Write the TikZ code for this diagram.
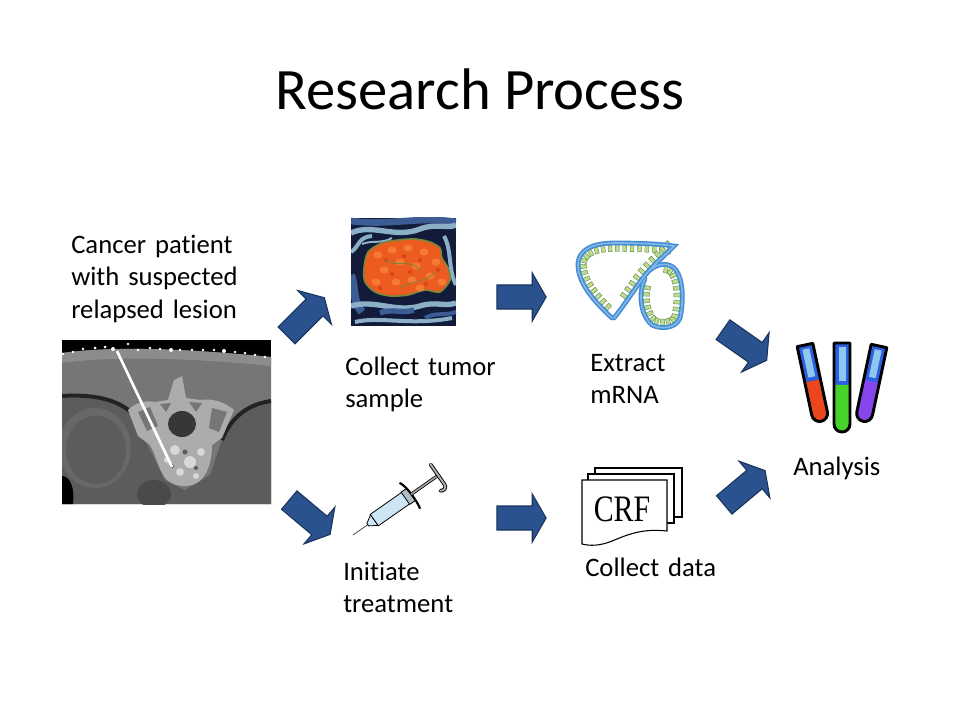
\documentclass[tikz,border=0pt]{standalone}
\usepackage{fontspec}
\setmainfont{Carlito}[RawFeature={-liga}]
\newfontfamily\crffont{Liberation Serif}
\usetikzlibrary{shapes.arrows,decorations.markings}

\definecolor{arrowblue}{RGB}{42,82,142}
\definecolor{arrowedge}{RGB}{28,52,92}
\definecolor{ctband}{RGB}{140,140,140}
\definecolor{ctmuscle}{RGB}{118,118,118}
\definecolor{ctlow}{RGB}{92,92,92}
\definecolor{ctorgan}{RGB}{104,104,104}
\definecolor{ctbowel}{RGB}{74,74,74}
\definecolor{ctdark}{RGB}{35,35,35}
\definecolor{ctbone}{RGB}{172,172,172}
\definecolor{ctbright}{RGB}{215,215,215}
\definecolor{ctcanal}{RGB}{55,55,55}
\definecolor{tumbg}{RGB}{18,28,58}
\definecolor{tumlight}{RGB}{140,175,200}
\definecolor{tummid}{RGB}{60,92,150}
\definecolor{tumorange}{RGB}{236,92,32}
\definecolor{tumspot}{RGB}{246,122,50}
\definecolor{tumdeep}{RGB}{214,70,22}
\definecolor{tumedge}{RGB}{120,135,60}
\definecolor{ribbon}{RGB}{70,140,210}
\definecolor{ribbonlight}{RGB}{130,185,235}
\definecolor{basegreen}{RGB}{190,222,140}
\definecolor{basedark}{RGB}{90,130,70}
\definecolor{tubeblue}{RGB}{45,95,225}
\definecolor{tubelight}{RGB}{140,200,240}
\definecolor{liqred}{RGB}{235,70,30}
\definecolor{liqgreen}{RGB}{70,210,40}
\definecolor{liqpurple}{RGB}{135,70,235}
\definecolor{syrblue}{RGB}{205,230,245}

\newcommand\mytesttube[5]{%
  \begin{scope}[shift={(#1,#2)}, rotate=#3]
    \fill[tubeblue] (-8,0) -- (-8,#4-8) arc (180:0:8) -- (8,0) -- cycle;
    \fill[#5] (-8,#4*0.47) -- (-8,#4-8) arc (180:0:8) -- (8,#4*0.47) -- cycle;
    \fill[tubelight] (-3.5,4) rectangle (3.5,#4*0.47-4);
    \draw[black, line width=2.2pt, line join=round] (-8,0) -- (-8,#4-8) arc (180:0:8) -- (8,0) -- cycle;
  \end{scope}}

\begin{document}
\begin{tikzpicture}[x=0.75pt,y=-0.75pt,
  lbl/.style={anchor=base west, inner sep=0pt, text width=200pt, align=left,
    font=\fontsize{20}{24}\selectfont},
  blockarrow/.style={single arrow, draw=arrowedge, fill=arrowblue, line width=0.8pt,
    inner xsep=0pt, inner ysep=8.6pt, minimum height=40pt,
    single arrow head extend=9pt, single arrow tip angle=120,
    single arrow head indent=0pt, outer sep=0pt},
  page/.style={fill=white, draw=black, line width=0.8pt}]

\useasboundingbox[fill=white] (0,0) rectangle (960,720);

% ---------- title ----------
\node[anchor=base, inner sep=0pt, font=\fontsize{44}{52}\selectfont] (title) at (480,110) {Research Process};

% ---------- labels ----------
\node[lbl] (patient) at (71,254) {Cancer patient\\with suspected\\relapsed lesion};
\node[lbl] (collect) at (345,375) {Collect tumor\\sample};
\node[lbl] (extract) at (590,371) {Extract\\mRNA};
\node[lbl] (analysis) at (793,475) {Analysis};
\node[lbl] (initiate) at (343,580) {Initiate\\treatment};
\node[lbl] (data) at (585,576) {Collect data};

% ---------- block arrows ----------
\node[blockarrow, rotate=45] (a1) at (303,319) {};
\node[blockarrow, rotate=-40] (a2) at (307,515) {};
\node[blockarrow, minimum height=37pt] (a3) at (518,297) {};
\node[blockarrow, minimum height=37pt] (a4) at (518,518) {};
\node[blockarrow, rotate=-35] (a5) at (742,343) {};
\node[blockarrow, rotate=40] (a6) at (742,490) {};

% ---------- CT scan ----------
\begin{scope}
  \clip (62,340) rectangle (271,504);
  \fill[black] (62,340) rectangle (271,504);
  \fill[ctmuscle] (62,353) .. controls (120,345) and (200,350) .. (271,357) -- (271,504) -- (62,504) -- cycle;
  \fill[ctband] (62,353) .. controls (120,345) and (200,350) .. (271,357) -- (271,366) .. controls (200,359) and (120,355) .. (62,363) -- cycle;
  \fill[ctlow] (62,398) .. controls (95,396) and (118,402) .. (132,414) -- (150,450) -- (165,480) -- (185,490) -- (210,475) -- (222,440) .. controls (232,418) and (250,405) .. (271,402) -- (271,504) -- (62,504) -- cycle;
  \fill[ctorgan] (95,448) ellipse [x radius=36, y radius=40];
  \fill[ctlow] (96,450) ellipse [x radius=30, y radius=34];
  \fill[ctbowel] (154,494) ellipse [x radius=17, y radius=14];
  \draw[ctdark, line width=3pt] (62,396) .. controls (95,394) and (118,400) .. (132,413);
  \draw[ctdark, line width=3pt] (271,401) .. controls (250,404) and (232,415) .. (222,440);
  \fill[black] (62,476) .. controls (70,476) and (75,488) .. (73,504) -- (62,504) -- cycle;
  % vertebra
  \fill[ctbone] (128,410) .. controls (135,403) and (145,400) .. (155,402) -- (168,400) -- (174,380) -- (182,376) -- (186,398) -- (200,400) .. controls (212,398) and (225,402) .. (234,410) -- (222,438) -- (212,445) .. controls (212,460) and (208,478) .. (195,484) .. controls (185,488) and (172,486) .. (165,478) .. controls (158,468) and (156,455) .. (150,445) -- (138,436) -- cycle;
  \fill[ctmuscle] (138,412) -- (150,407) -- (158,426) -- (147,431) -- cycle;
  \fill[ctmuscle] (212,408) -- (227,412) -- (219,432) -- (209,428) -- cycle;
  \fill[ctmuscle] (160,404) -- (171,403) -- (166,412) -- cycle;
  \fill[ctmuscle] (189,402) -- (202,403) -- (196,412) -- cycle;
  \fill[ctcanal] (182,424) ellipse [x radius=14, y radius=13];
  \fill[ctbright] (175,450) circle (5);
  \fill[ctbright] (190,462) circle (6);
  \fill[ctbright] (180,472) circle (4);
  \fill[ctbright] (201,452) circle (4);
  \fill[ctbright] (167,460) circle (3);
  \fill[ctbright] (196,476) circle (3);
  \fill[ctlow] (185,452) circle (2.5);
  \fill[ctlow] (196,468) circle (2);
  \fill[ctlow] (172,466) circle (2);
  % skin markers
  \foreach \px/\py/\pr in {63/354/1.3,73/352/1.3,83/349/1.3,95/348/1.5,105/347/1.5,113/349/2,128/344/1.3,138/350/1.3,150/348/1.3,160/349/1.3,171/350/2,180/350/1.3,192/350/1.3,203/350/1.3,214/350/1.3,224/351/2,235/352/1.3,245/353/1.3,255/355/1.3,265/357/1.3}
    \fill[white] (\px,\py) circle (\pr);
  % needle
  \draw[white, line width=2pt] (117,351) -- (172,467);
\end{scope}

% ---------- tumour sample ----------
\begin{scope}
  \clip (351,218) rectangle (456,326);
  \fill[tumbg] (351,218) rectangle (456,326);
  \draw[tummid, line width=5pt] (351,221) .. controls (390,226) and (420,216) .. (456,222);
  \draw[tumlight, line width=4pt] (351,233) .. controls (372,223) and (395,239) .. (420,229) .. controls (435,223) and (448,229) .. (456,225);
  \draw[tumlight, line width=3pt] (351,252) .. controls (360,246) and (358,237) .. (372,236);
  \draw[tummid, line width=6pt] (351,275) .. controls (356,290) and (352,300) .. (362,312);
  \draw[tumlight, line width=4pt] (351,306) .. controls (375,299) and (395,313) .. (420,306) .. controls (435,301) and (445,307) .. (456,303);
  \draw[tumlight, line width=3pt] (355,322) .. controls (380,316) and (410,326) .. (452,318);
  \draw[tumlight, line width=3pt] (444,236) .. controls (452,250) and (448,270) .. (456,285);
  \draw[tummid, line width=4pt] (380,313) .. controls (392,308) and (402,314) .. (414,310);
  \draw[tumlight, line width=1.5pt] (362,244) .. controls (372,240) and (382,244) .. (392,238);
  \draw[tummid, line width=3pt] (425,318) .. controls (435,312) and (445,316) .. (456,312);
  \fill[tumorange, draw=tumedge, line width=1.2pt] plot[smooth cycle] coordinates {(364,268) (368,252) (382,243) (398,240) (415,239) (430,242) (440,248) (442,258) (448,268) (450,280) (440,292) (425,290) (408,295) (390,296) (375,292) (365,282)};
  \foreach \px/\py in {378/255,392/250,408/248,424/252,436/262,384/270,400/262,416/266,430/276,396/282,412/280,376/282,442/282,420/288}
    \fill[tumspot] (\px,\py) ellipse [x radius=4.5, y radius=3.5];
  \foreach \px/\py in {386/260,404/256,420/260,392/274,410/272,426/284,380/288,438/270}
    \fill[tumdeep] (\px,\py) circle (2);
  \draw[tumedge, line width=0.6pt] (385,260) .. controls (395,268) and (410,258) .. (420,270);
  \draw[tumedge, line width=0.6pt] (400,288) .. controls (410,280) and (425,284) .. (435,272);
\end{scope}

% ---------- mRNA ----------
\path[decoration={markings, mark=between positions 0.04 and 0.93 step 5.6pt with {\fill[basegreen, draw=basedark, line width=0.3pt] (-1.9,2) rectangle (1.9,8.5);}}, decorate]
  (612,318) .. controls (598,305) and (578,285) .. (578,265) .. controls (578,250) and (592,243) .. (615,243) .. controls (640,243) and (660,244) .. (674,246) .. controls (662,258) and (648,270) .. (640,282) .. controls (630,296) and (622,308) .. (614,318);
\path[decoration={markings, mark=between positions 0.05 and 0.92 step 5.6pt with {\fill[basegreen, draw=basedark, line width=0.3pt] (-1.9,-2) rectangle (1.9,-8.5);}}, decorate]
  (645,279) .. controls (638,292) and (640,315) .. (652,325) .. controls (662,330) and (676,328) .. (680,318) .. controls (684,300) and (683,280) .. (676,270) .. controls (670,262) and (658,263) .. (650,270);
\draw[ribbon, line width=3.6pt, line cap=round]
  (612,318) .. controls (598,305) and (578,285) .. (578,265) .. controls (578,250) and (592,243) .. (615,243) .. controls (640,243) and (660,244) .. (674,246) .. controls (662,258) and (648,270) .. (640,282) .. controls (630,296) and (622,308) .. (614,318);
\draw[ribbon, line width=3.6pt, line cap=round]
  (645,279) .. controls (638,292) and (640,315) .. (652,325) .. controls (662,330) and (676,328) .. (680,318) .. controls (684,300) and (683,280) .. (676,270) .. controls (670,262) and (658,263) .. (650,270);
\draw[ribbonlight, line width=1.2pt, line cap=round]
  (612,318) .. controls (598,305) and (578,285) .. (578,265) .. controls (578,250) and (592,243) .. (615,243) .. controls (640,243) and (660,244) .. (674,246) .. controls (662,258) and (648,270) .. (640,282) .. controls (630,296) and (622,308) .. (614,318);
\draw[ribbonlight, line width=1.2pt, line cap=round]
  (645,279) .. controls (638,292) and (640,315) .. (652,325) .. controls (662,330) and (676,328) .. (680,318) .. controls (684,300) and (683,280) .. (676,270) .. controls (670,262) and (658,263) .. (650,270);

% ---------- test tubes ----------
\mytesttube{805}{345}{12}{78}{liqred}
\mytesttube{842}{343}{0}{89}{liqgreen}
\mytesttube{879}{346}{-12}{77}{liqpurple}

% ---------- syringe ----------
\begin{scope}[shift={(353,535)}, rotate=35]
  \draw[gray!60!black, line width=0.6pt] (0,0) -- (20,0);
  \filldraw[fill=syrblue, draw=black, line width=0.6pt] (18,-1.5) -- (26,-6.5) -- (26,6.5) -- (18,1.5) -- cycle;
  \filldraw[fill=syrblue, draw=black, line width=0.6pt] (26,-7) rectangle (66,7);
  \filldraw[fill=syrblue!60!gray, draw=black, line width=0.6pt] (64,-7.5) rectangle (71,7.5);
  \draw[black, line width=1.6pt] (68,-16) .. controls (72,-10) and (72,10) .. (70,17);
  \draw[black, line width=2.4pt] (71,0) -- (103,0);
  \draw[gray!70, line width=1.2pt] (71,0) -- (103,0);
  \draw[black, line width=2.8pt, line cap=round] (104,-13) -- (104,11) .. controls (104,15) and (100,16) .. (97,14);
  \draw[gray!60, line width=1.4pt, line cap=round] (104,-13) -- (104,11) .. controls (104,15) and (100,16) .. (97,14);
\end{scope}

% ---------- CRF pages ----------
\filldraw[page] (595,468) rectangle (682,517);
\filldraw[page] (588,474) rectangle (674,523);
\filldraw[page] (582,480) -- (667,480) -- (667,531) .. controls (640,528) and (625,536) .. (612,541) .. controls (600,546) and (590,546) .. (582,544) -- cycle;
\node[inner sep=0pt, font=\crffont\fontsize{28}{32}\selectfont] (crf) at (622,509) {\scalebox{0.8}[1]{CRF}};

\end{tikzpicture}
\end{document}
